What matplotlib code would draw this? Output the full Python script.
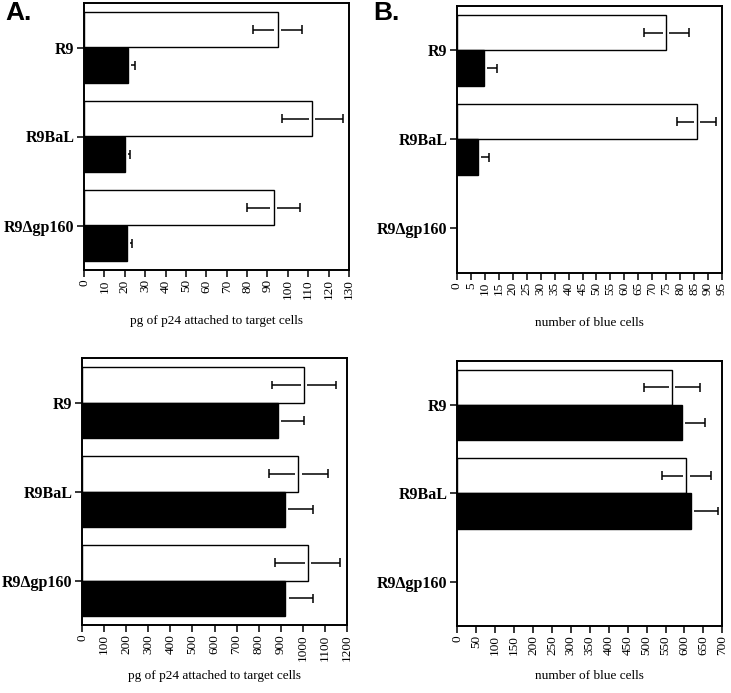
import numpy as np
import matplotlib
matplotlib.use("Agg")
from matplotlib import pyplot as plt

strains = ["R9", "R9BaL", "R9\u0394gp160"]

# panel A, top: pg of p24 (white / black bars)
a_top_white = [95, 112, 93]
a_top_white_err = [12, 15, 13]
a_top_black = [21.5, 20, 21]
a_top_black_err = [3.5, 2.5, 2.7]

# panel B, top: number of blue cells (no bars for R9dgp160)
b_top_white = [75, 86, np.nan]
b_top_white_err = [8, 7, np.nan]
b_top_black = [9.5, 7.5, np.nan]
b_top_black_err = [4.8, 3.9, np.nan]

# panel A, bottom
a_bot_white = [1005, 980, 1022]
a_bot_white_err = [145, 134, 146]
a_bot_black = [886, 917, 921]
a_bot_black_err = [121, 128, 124]

# panel B, bottom
b_bot_white = [567, 605, np.nan]
b_bot_white_err = [74, 65, np.nan]
b_bot_black = [593, 617, np.nan]
b_bot_black_err = [62, 71, np.nan]

serif = "Liberation Serif"


def panel(ax, white, white_err, black, black_err, xmax, step, xlabel):
    y = np.arange(len(strains))
    gap = 0.012 * xmax
    for vals, errs, off, fc in [(white, white_err, -0.2, "white"),
                                (black, black_err, 0.2, "black")]:
        vals = np.array(vals, float)
        errs = np.array(errs, float)
        ok = ~np.isnan(vals)
        v, e, yy = vals[ok], errs[ok], y[ok] + off
        ax.barh(yy, v, height=0.4, color=fc, edgecolor="black", linewidth=1.0, zorder=2)
        # error bars with a small gap either side of the bar end
        ax.hlines(yy, v - e, v - gap, color="black", linewidth=1.1, zorder=3)
        ax.hlines(yy, v + gap, v + e, color="black", linewidth=1.1, zorder=3)
        ax.vlines(v - e, yy - 0.05, yy + 0.05, color="black", linewidth=1.1, zorder=3)
        ax.vlines(v + e, yy - 0.05, yy + 0.05, color="black", linewidth=1.1, zorder=3)

    ax.set_xlim(0, xmax)
    ax.set_ylim(len(strains) - 0.5, -0.5)
    ax.set_xticks(np.arange(0, xmax + step / 2, step))
    ax.set_yticks(y)
    ax.set_yticklabels(strains, fontfamily=serif, fontweight="bold", fontsize=11.5)
    for lab in ax.get_xticklabels():
        lab.set_fontfamily(serif)
        lab.set_fontsize(9.5)
        lab.set_rotation(90)
    ax.tick_params(axis="x", length=4.7, width=1.1, pad=2)
    ax.tick_params(axis="y", length=5, width=1.1, pad=2)
    for s in ax.spines.values():
        s.set_linewidth(1.4)
    ax.text(0.5, -0.19, xlabel, transform=ax.transAxes, ha="center", va="center",
            fontfamily=serif, fontsize=9.5)


fig = plt.figure(figsize=(7.31, 6.93), dpi=100)
fig.patch.set_facecolor("white")

ax1 = fig.add_axes([84 / 731, 1 - 270 / 693, 265 / 731, 267 / 693])
ax2 = fig.add_axes([457 / 731, 1 - 272.7 / 693, 265 / 731, 266.7 / 693])
ax3 = fig.add_axes([82 / 731, 1 - 625 / 693, 265 / 731, 266.7 / 693])
ax4 = fig.add_axes([457.3 / 731, 1 - 626 / 693, 265 / 731, 265.3 / 693])

panel(ax1, a_top_white, a_top_white_err, a_top_black, a_top_black_err,
      130, 10, "pg of p24 attached to target cells")
panel(ax2, b_top_white, b_top_white_err, b_top_black, b_top_black_err,
      95, 5, "number of blue cells")
panel(ax3, a_bot_white, a_bot_white_err, a_bot_black, a_bot_black_err,
      1200, 100, "pg of p24 attached to target cells")
panel(ax4, b_bot_white, b_bot_white_err, b_bot_black, b_bot_black_err,
      700, 50, "number of blue cells")

fig.text(5 / 731, 1 - 13 / 693, "A.", fontfamily="Liberation Sans", fontweight="bold",
         fontsize=19, va="center", ha="left")
fig.text(373 / 731, 1 - 13 / 693, "B.", fontfamily="Liberation Sans", fontweight="bold",
         fontsize=19, va="center", ha="left")

fig.savefig("out.png", dpi=100)
